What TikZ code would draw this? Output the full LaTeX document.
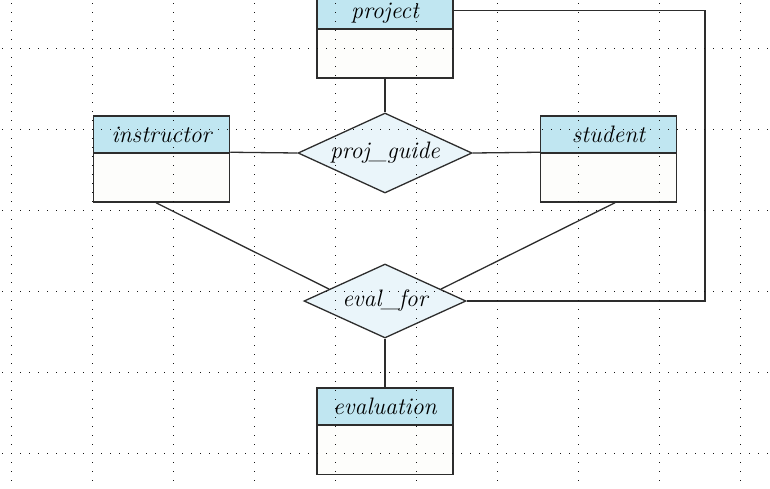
\documentclass[tikz,border=0pt]{standalone}
\usetikzlibrary{shapes.geometric}
\definecolor{hdr}{RGB}{192,230,241}
\definecolor{bdy}{RGB}{253,253,251}
\definecolor{rel}{RGB}{234,245,250}
\definecolor{ln}{RGB}{45,45,45}
\definecolor{dotc}{RGB}{20,20,20}
\begin{document}
\begin{tikzpicture}[x=0.5pt,y=-0.5pt,
  lbl/.style={font=\fontsize{11.9}{14}\selectfont\itshape},
  ehead/.style={draw=ln,line width=0.75pt,fill=hdr,rectangle,inner sep=0pt,
    minimum width=68pt,minimum height=18.5pt,lbl},
  ebody/.style={draw=ln,line width=0.75pt,fill=bdy,rectangle,inner sep=0pt,
    minimum width=68pt,minimum height=24.5pt},
  rship/.style={draw=ln,line width=0.65pt,fill=rel,diamond,inner sep=0pt},
  conn/.style={draw=ln,line width=0.65pt},
  gdot/.style={fill=dotc,draw=none}]
\useasboundingbox (0,0) rectangle (770,488);
\clip (0,0) rectangle (770,488);
% entities
\node[ebody] (projb) at (385,53.5) {};
\node[ehead,label={[lbl,yshift=-1.2pt]center:project}] (proj) at (385,10.5) {};
\node[ebody] (insb) at (161.5,177.5) {};
\node[ehead] (ins) at (161.5,134.5) {instructor};
\node[ebody] (stub) at (608.5,177.5) {};
\node[ehead] (stu) at (608.5,134.5) {student};
\node[ebody] (evb) at (385,450) {};
\node[ehead] (evh) at (385,406.5) {evaluation};
% relationships
\node[rship,minimum width=87pt,minimum height=40pt,
  label={[lbl]center:proj\_guide}] (pg) at (385,153) {};
\node[rship,minimum width=81pt,minimum height=37pt,
  label={[lbl]center:eval\_for}] (ef) at (385,301) {};
\coordinate (turn) at (705,301);
% connectors
\draw[conn] (projb.south) -- (pg.north);
\draw[conn] (insb.north east) -- (pg.west);
\draw[conn] (pg.east) -- (stub.north west);
\draw[conn] ([xshift=-2.75pt]insb.south) -- (ef.168);
\draw[conn] ([xshift=3.25pt]stub.south) -- (ef.12);
\draw[conn] (ef.south) -- (evh.north);
\draw[conn] (proj.east) -| (turn) -- (ef.east);
% dotted grid
\foreach \k in {0,...,9}{
  \foreach \j in {0,...,54}{
    \fill[gdot] ({11+81*\k-0.5},{3+9*\j-0.5}) rectangle ++(1,1);
  }
}
\foreach \k in {0,...,5}{
  \foreach \j in {0,...,85}{
    \fill[gdot] ({2+9*\j-0.5},{48+81*\k-0.5}) rectangle ++(1,1);
  }
}
\end{tikzpicture}
\end{document}
